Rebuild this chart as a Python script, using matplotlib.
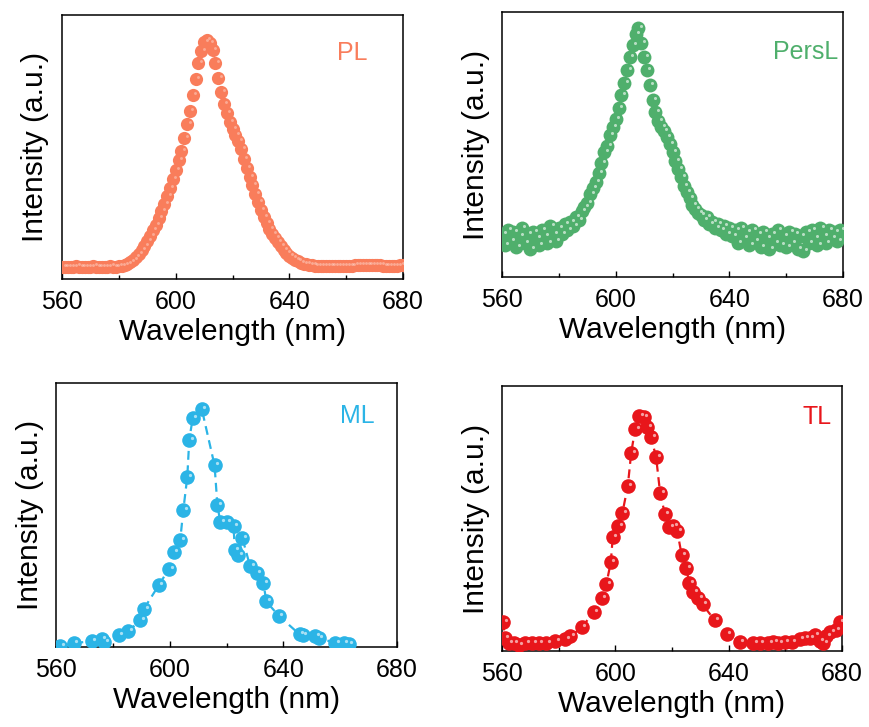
import matplotlib
matplotlib.use("Agg")
import matplotlib.pyplot as plt
import matplotlib.transforms as mtransforms
import numpy as np

plt.rcParams['font.family'] = ['Liberation Sans', 'DejaVu Sans']

# PL spectrum, 1 nm steps 560..680
pl_x = list(range(560, 681))
pl_y = [0.005, 0.005, 0.004, 0.005, 0.005, 0.006, 0.005, 0.004, 0.005, 0.005,
        0.005, 0.006, 0.005, 0.005, 0.004, 0.005, 0.005, 0.006, 0.005, 0.005,
        0.006, 0.008, 0.012, 0.018, 0.026, 0.036, 0.048, 0.062, 0.078, 0.097,
        0.118, 0.140, 0.165, 0.190, 0.218, 0.248, 0.280, 0.315, 0.352, 0.390,
        0.430, 0.472, 0.515, 0.570, 0.630, 0.690, 0.760, 0.830, 0.900, 0.950,
        0.990, 1.000, 0.985, 0.955, 0.900, 0.835, 0.770, 0.720, 0.680, 0.640,
        0.610, 0.585, 0.555, 0.520, 0.480, 0.440, 0.400, 0.362, 0.325, 0.290,
        0.255, 0.225, 0.195, 0.170, 0.150, 0.130, 0.112, 0.094, 0.078, 0.064,
        0.052, 0.042, 0.034, 0.028, 0.023, 0.019, 0.016, 0.013, 0.011, 0.010,
        0.009, 0.008, 0.008, 0.008, 0.007, 0.008, 0.008, 0.008, 0.009, 0.009,
        0.009, 0.010, 0.010, 0.011, 0.012, 0.012, 0.013, 0.013, 0.013, 0.012,
        0.012, 0.012, 0.011, 0.010, 0.010, 0.010, 0.009, 0.010, 0.010, 0.011,
        0.012]

# PersL spectrum, 1 nm steps 560..680 (noisy)
persl_x = list(range(560, 681))
persl_y = [0.02, -0.03, 0.04, -0.01, 0.03, -0.04, 0.01, 0.05, -0.02, 0.02,
           -0.05, 0.03, 0.00, -0.03, 0.04, 0.01, -0.02, 0.06, 0.02, -0.01,
           0.05, 0.02, 0.07, 0.04, 0.08, 0.06, 0.10, 0.09, 0.13, 0.15,
           0.17, 0.21, 0.24, 0.27, 0.31, 0.36, 0.41, 0.44, 0.49, 0.53,
           0.57, 0.62, 0.68, 0.74, 0.80, 0.86, 0.92, 0.97, 1.00, 0.93,
           0.86, 0.80, 0.73, 0.66, 0.60, 0.56, 0.53, 0.51, 0.48, 0.45,
           0.41, 0.37, 0.33, 0.29, 0.25, 0.22, 0.19, 0.16, 0.14, 0.12,
           0.11, 0.09, 0.10, 0.07, 0.08, 0.05, 0.07, 0.04, 0.06, 0.02,
           0.05, 0.01, 0.04, -0.02, 0.05, 0.00, 0.03, -0.03, 0.04, -0.01,
           0.02, -0.04, 0.03, 0.00, -0.05, 0.02, -0.02, 0.04, -0.03, 0.01,
           -0.04, 0.03, -0.02, 0.02, -0.05, 0.01, -0.06, 0.03, -0.02, 0.04,
           0.00, -0.03, 0.05, 0.01, -0.02, 0.04, 0.00, 0.03, -0.01, 0.04,
           0.02]

# ML spectrum
ml_x = [561.5, 566.3, 572.6, 576.1, 577.0, 582.0, 585.5, 589.6, 591.0, 596.2,
        599.8, 601.5, 603.7, 604.8, 606.2, 606.9, 608.1, 611.3, 615.8, 616.8,
        617.8, 620.1, 622.5, 622.9, 624.1, 625.6, 628.3, 630.6, 633.0, 634.0,
        638.3, 645.7, 646.9, 651.2, 652.4, 658.3, 661.2, 663.0]
ml_y = [-0.01, 0.003, 0.01, 0.02, 0.006, 0.038, 0.053, 0.10, 0.15, 0.25,
        0.32, 0.39, 0.44, 0.57, 0.71, 0.87, 0.96, 1.00, 0.76, 0.59,
        0.52, 0.52, 0.50, 0.40, 0.38, 0.45, 0.33, 0.30, 0.26, 0.18,
        0.12, 0.04, 0.036, 0.035, 0.025, 0.003, 0.003, -0.001]

# TL spectrum
tl_x = [560.4, 561.0, 562.3, 564.1, 565.9, 568.2, 570.6, 572.9, 575.6, 578.8,
        582.3, 584.1, 588.2, 592.3, 595.2, 596.8, 598.4, 599.1, 601.1, 602.5,
        604.4, 605.6, 607.0, 608.5, 610.1, 611.3, 612.6, 614.4, 615.8, 617.5,
        619.1, 620.5, 621.9, 623.4, 625.0, 626.1, 627.5, 629.3, 630.8, 635.1,
        639.3, 644.0, 648.6, 651.0, 653.9, 655.7, 657.5, 659.8, 662.2, 665.1,
        666.9, 668.6, 670.4, 672.1, 673.3, 674.5, 675.9, 677.8, 679.2]
tl_y = [0.095, 0.022, 0.0, 0.0, -0.007, 0.0, 0.0, 0.003, 0.003, 0.012,
        0.018, 0.03, 0.07, 0.136, 0.20, 0.258, 0.355, 0.467, 0.514, 0.572,
        0.69, 0.835, 0.94, 0.997, 0.99, 0.95, 0.905, 0.815, 0.66, 0.566,
        0.51, 0.514, 0.49, 0.387, 0.328, 0.266, 0.226, 0.20, 0.17, 0.10,
        0.04, 0.007, 0.0, 0.0, 0.003, 0.006, 0.003, 0.006, 0.007, 0.018,
        0.025, 0.022, 0.036, 0.012, 0.003, 0.03, 0.05, 0.058, 0.095]

FIG_W, FIG_H = 869, 727
fig = plt.figure(figsize=(FIG_W / 100, FIG_H / 100), dpi=100)


def add_panel(left, right, top, bottom):
    return fig.add_axes([left / FIG_W, (FIG_H - bottom) / FIG_H,
                         (right - left) / FIG_W, (bottom - top) / FIG_H])


def balls(ax, x, y, color, ms, line=False, glint_alpha=0.6):
    if line:
        ax.plot(x, y, '--', color=color, lw=1.6, dashes=(4, 2.5), zorder=2)
    ax.plot(x, y, 'o', color=color, ms=ms, mew=0, ls='none', zorder=3)
    # white glint to mimic the shaded spheres
    glint = mtransforms.offset_copy(ax.transData, fig=fig, x=2.5, y=2.0, units='dots')
    ax.plot(x, y, 'o', color='white', ms=ms * 0.22, mew=0, ls='none',
            alpha=glint_alpha, transform=glint, zorder=4)


def style(ax, ylim, label, color, lx, ly):
    ax.set_xlim(560, 680)
    ax.set_ylim(*ylim)
    ax.set_xticks([560, 600, 640, 680])
    ax.set_xticks([580, 620, 660], minor=True)
    ax.set_yticks([])
    ax.tick_params(axis='x', which='both', direction='in', top=False,
                   labelsize=18, pad=8)
    ax.tick_params(axis='x', which='major', length=4.5, width=1)
    ax.tick_params(axis='x', which='minor', length=3, width=1)
    for sp in ax.spines.values():
        sp.set_linewidth(1.1)
    ax.set_xlabel('Wavelength (nm)', fontsize=21.5, labelpad=3)
    ax.set_ylabel('Intensity (a.u.)', fontsize=21.5, labelpad=9)
    ax.text(lx, ly, label, color=color, fontsize=18, ha='right', va='center',
            transform=ax.transAxes)


pl_color = '#F97D5B'
persl_color = '#4FAF6C'
ml_color = '#2BB4E6'
tl_color = '#E8161B'

ax1 = add_panel(62, 403, 15, 279)
balls(ax1, pl_x, pl_y, pl_color, 9.5, glint_alpha=0.35)
style(ax1, (-0.049, 1.11), 'PL', pl_color, 0.897, 0.856)

ax2 = add_panel(502, 843, 12, 277)
balls(ax2, persl_x, persl_y, persl_color, 10)
style(ax2, (-0.183, 1.076), 'PersL', persl_color, 0.985, 0.849)

ax3 = add_panel(56, 397, 383, 647)
balls(ax3, ml_x, ml_y, ml_color, 10.5, line=True)
style(ax3, (-0.014, 1.111), 'ML', ml_color, 0.935, 0.875)

ax4 = add_panel(502, 842, 386, 651)
balls(ax4, tl_x, tl_y, tl_color, 10.5, line=True)
style(ax4, (-0.034, 1.128), 'TL', tl_color, 0.97, 0.883)

fig.savefig('out.png', dpi=100)
